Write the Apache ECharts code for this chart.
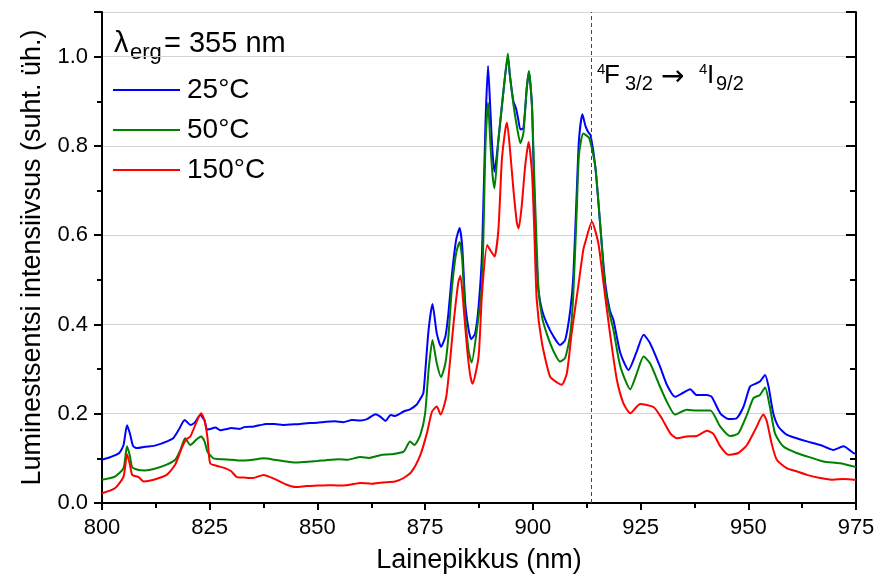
<!DOCTYPE html>
<html>
<head>
<meta charset="utf-8">
<script src="https://cdn.jsdelivr.net/npm/echarts@6/dist/echarts.min.js"></script>
<style>html,body{margin:0;padding:0;background:#fff;}#c{width:881px;height:582px;}</style>
</head>
<body>
<div id="c"></div>
<script>
// ---- data ----
const seriesNames = ['25°C', '50°C', '150°C'];
const xTicks = [800, 825, 850, 875, 900, 925, 950, 975];
const yTicks = [0.0, 0.2, 0.4, 0.6, 0.8, 1.0];
const transitionWl = 913.5;

const wl25 = [800,802,804,805,805.8,806.5,807.2,808.1,810,812,814,815.1,816.5,817.8,819.2,820.5,821.5,822.8,823.8,824.4,825.2,826.3,827.5,829,830,832,833,835,837,838,840,842,844,846,848,850,852,854,856,858,860,861.5,863.5,864.5,865.8,867,868,870,871.5,873,874,874.6,875,875.8,876.7,877.7,878.7,879.7,880.4,881.2,882.2,883,883.6,884.3,885.1,885.7,886.6,887.4,888.2,889,889.6,890.1,890.6,891.1,892,893.2,894.2,894.7,895.5,896.1,896.6,897.1,897.8,898.6,899.1,899.8,900.3,900.8,901.3,902.1,903.2,904.8,906.3,907.5,908.7,909.4,910.2,910.7,911.5,912.2,912.9,913.4,914.5,915.6,916.8,917.9,918.7,920.3,922.2,924.1,925.7,927.2,929.5,931.1,933,934.9,936.5,938,940.4,941.5,943.5,945.4,947.3,948.9,950.4,951.6,952.7,953.9,954.7,955.8,957,958.9,961.2,963.6,966.7,969.7,972.1,974.4,975];
const int25 = [0.097,0.103,0.112,0.130,0.174,0.155,0.128,0.123,0.126,0.128,0.134,0.138,0.145,0.164,0.186,0.175,0.180,0.197,0.185,0.164,0.166,0.169,0.163,0.166,0.168,0.166,0.170,0.171,0.175,0.177,0.177,0.175,0.176,0.177,0.179,0.180,0.182,0.183,0.181,0.186,0.185,0.188,0.199,0.194,0.184,0.197,0.195,0.205,0.210,0.220,0.235,0.247,0.291,0.388,0.446,0.380,0.350,0.373,0.425,0.51,0.59,0.616,0.575,0.448,0.388,0.367,0.380,0.44,0.56,0.85,0.979,0.888,0.791,0.742,0.813,0.925,1.0,0.955,0.899,0.884,0.86,0.837,0.84,0.93,0.965,0.888,0.70,0.56,0.477,0.433,0.403,0.373,0.354,0.365,0.433,0.51,0.70,0.813,0.871,0.845,0.83,0.824,0.753,0.627,0.492,0.43,0.41,0.336,0.298,0.339,0.377,0.358,0.306,0.265,0.238,0.247,0.255,0.242,0.242,0.238,0.201,0.188,0.190,0.216,0.261,0.267,0.272,0.287,0.261,0.201,0.171,0.153,0.145,0.138,0.130,0.119,0.127,0.112,0.110];

const wl50 = [800,803,805,805.8,806.5,807,808.5,810,812,815,817,818.2,819.3,820.5,821.9,823,823.8,824.5,825.9,828,830,832,835,837.5,840,842,845,847,850,852,855,857,860,862,865,867,870,871.5,872.5,873.9,875,875.8,876.7,877.7,878.7,879.7,880.4,881.2,882.2,883,883.6,884.3,885.1,885.8,887,888.2,889,889.6,890.1,890.6,891.1,892,893.2,894.2,894.7,895.5,896.3,897.1,897.8,898.6,899.1,899.8,900.3,900.8,901.3,902.1,903.2,904.8,906.3,907.5,908.7,909.4,910.2,910.7,911.7,913.1,914.5,915.6,916.8,917.9,918.7,920.3,922.6,924.1,925.7,927.2,929.5,931.1,933,935.7,938,941.2,943.5,945.8,947.7,949.7,951.2,952.7,953.9,955,956.2,958.1,961.2,965.1,967.4,971.3,974.4,975];
const int50 = [0.052,0.059,0.078,0.127,0.105,0.080,0.074,0.073,0.076,0.086,0.097,0.119,0.145,0.130,0.142,0.149,0.138,0.115,0.100,0.098,0.097,0.095,0.097,0.100,0.097,0.094,0.091,0.092,0.094,0.096,0.098,0.097,0.103,0.101,0.108,0.109,0.115,0.138,0.130,0.153,0.201,0.298,0.365,0.313,0.282,0.313,0.373,0.48,0.56,0.585,0.545,0.42,0.34,0.315,0.388,0.49,0.80,0.897,0.813,0.739,0.705,0.813,0.925,1.007,0.955,0.892,0.843,0.806,0.828,0.933,0.968,0.888,0.739,0.60,0.48,0.418,0.380,0.340,0.317,0.325,0.38,0.47,0.66,0.78,0.828,0.817,0.753,0.627,0.48,0.42,0.388,0.306,0.255,0.29,0.328,0.313,0.261,0.227,0.198,0.209,0.207,0.207,0.171,0.150,0.156,0.198,0.235,0.242,0.259,0.216,0.156,0.127,0.112,0.100,0.093,0.089,0.082,0.080];

const wl150 = [800,803,805,805.8,806.5,807,808.5,809.7,812,815,817,818.5,819.5,820.5,822,823,823.8,824.5,825.1,826.7,828.5,830,831.3,833,835,837.5,840,842.9,845,847.5,850,852.5,855,857.5,860,862.5,865,868,870,871.9,873.9,875.4,876.6,877.7,878.6,879.9,880.8,881.6,882.7,883.2,884,884.7,885.4,886,887.4,888.2,889.4,890.2,891.1,892,892.8,893.6,894,894.7,895.5,896.3,896.7,897.4,898.2,899,899.8,900.3,900.9,902.1,904,905.6,906.7,907.9,909,910.6,911.7,912.1,913.7,915.2,916.4,917.9,919.5,921,922.6,924.9,928,929.9,931.9,933.4,935.7,938,940.4,941.9,943.5,945.4,947.7,949.7,951.6,953.5,954.3,955.4,956.6,958.9,961.2,963.6,966.7,969.7,972.1,974.4,975];
const int150 = [0.022,0.033,0.059,0.110,0.085,0.063,0.058,0.048,0.052,0.063,0.086,0.123,0.142,0.149,0.183,0.201,0.185,0.145,0.089,0.083,0.078,0.071,0.058,0.057,0.056,0.063,0.054,0.041,0.036,0.038,0.039,0.040,0.039,0.041,0.045,0.043,0.046,0.048,0.056,0.071,0.108,0.156,0.205,0.216,0.198,0.238,0.32,0.403,0.495,0.509,0.43,0.350,0.29,0.267,0.328,0.47,0.578,0.565,0.552,0.612,0.768,0.836,0.852,0.791,0.701,0.627,0.615,0.664,0.753,0.809,0.739,0.619,0.455,0.359,0.283,0.270,0.265,0.291,0.380,0.49,0.567,0.582,0.630,0.582,0.492,0.38,0.276,0.224,0.201,0.222,0.215,0.190,0.156,0.145,0.149,0.150,0.162,0.155,0.127,0.108,0.112,0.130,0.164,0.198,0.183,0.134,0.097,0.078,0.071,0.063,0.056,0.052,0.054,0.052,0.052];

// ---- chart ----
const FONT = 'Arial, "Liberation Sans", sans-serif';
const colors = ['#0000ff', '#008000', '#ff0000'];
const zip = (xs, ys) => xs.map((x, i) => [x, ys[i]]);
const allX = [wl25, wl50, wl150];
const allY = [int25, int50, int150];

const chart = echarts.init(document.getElementById('c'), null, {renderer: 'canvas'});

const series = seriesNames.map((name, i) => ({
  name: name,
  type: 'line',
  data: zip(allX[i], allY[i]),
  symbol: 'none',
  smooth: 0.2,
  lineStyle: {color: colors[i], width: 2},
  itemStyle: {color: colors[i]},
  z: 3 + i,
  silent: true,
  markLine: i === 0 ? {
    silent: true,
    symbol: 'none',
    label: {show: false},
    lineStyle: {type: [4, 3], color: '#444', width: 1},
    data: [{xAxis: transitionWl}]
  } : undefined
}));

const option = {
  backgroundColor: '#fff',
  animation: false,
  grid: {left: 102, right: 25, top: 12, bottom: 79, containLabel: false},
  legend: {
    data: seriesNames,
    orient: 'vertical',
    left: 108,
    top: 69,
    itemWidth: 67,
    itemHeight: 14,
    itemGap: 8,
    icon: 'path://M0,6 L67,6 L67,8 L0,8 Z',
    textStyle: {fontFamily: FONT, fontSize: 28, color: '#000', lineHeight: 32, padding: [0, 0, 0, 2]},
    selectedMode: false
  },
  xAxis: [{
    type: 'value', min: 800, max: 975, interval: 25,
    name: 'Lainepikkus (nm)', nameLocation: 'middle', nameGap: 44,
    nameTextStyle: {fontFamily: FONT, fontSize: 27, color: '#000'},
    axisLine: {show: true, lineStyle: {color: '#000', width: 2}},
    axisTick: {show: true, length: 7, lineStyle: {color: '#000', width: 2}},
    minorTick: {show: true, splitNumber: 2, length: 5, lineStyle: {color: '#000', width: 2}},
    axisLabel: {fontFamily: FONT, fontSize: 22, color: '#000', margin: 14,
      formatter: v => xTicks.includes(v) ? String(v) : ''},
    splitLine: {show: false}
  }, {
    type: 'value', min: 800, max: 975, interval: 25, position: 'top',
    axisLine: {show: true, lineStyle: {color: '#000', width: 2}},
    axisTick: {show: false}, axisLabel: {show: false}, splitLine: {show: false}
  }],
  yAxis: [{
    type: 'value', min: 0, max: 1.1, interval: 0.2,
    name: 'Luminestsentsi intensiivsus (suht. üh.)', nameLocation: 'middle', nameGap: 53,
    nameTextStyle: {fontFamily: FONT, fontSize: 27, color: '#000'},
    axisLine: {show: true, lineStyle: {color: '#000', width: 2}},
    axisTick: {show: true, length: 8, lineStyle: {color: '#000', width: 2}},
    minorTick: {show: true, splitNumber: 2, length: 5, lineStyle: {color: '#000', width: 2}},
    axisLabel: {fontFamily: FONT, fontSize: 22, color: '#000', margin: 14, showMaxLabel: false,
      formatter: v => {
        const t = yTicks.find(y => Math.abs(y - v) < 1e-6);
        return t === undefined ? '' : t.toFixed(1);
      }},
    splitLine: {show: true, lineStyle: {color: '#d4d4d4', width: 1}}
  }, {
    type: 'value', min: 0, max: 1.1, interval: 0.2, position: 'right',
    axisLine: {show: true, lineStyle: {color: '#000', width: 2}},
    axisTick: {show: true, inside: true, length: 10, lineStyle: {color: '#000', width: 2}},
    minorTick: {show: true, splitNumber: 2, length: 6, lineStyle: {color: '#000', width: 2}},
    axisLabel: {show: false}, splitLine: {show: false}
  }],
  graphic: [
    {type: 'text', left: 114, top: 29, style: {text: 'λ', font: '29px ' + FONT, fill: '#000'}},
    {type: 'text', left: 130, top: 42, style: {text: 'erg', font: '22px ' + FONT, fill: '#000'}},
    {type: 'text', left: 164, top: 29, style: {text: '= 355 nm', font: '29px ' + FONT, fill: '#000'}},
    {type: 'text', left: 597, top: 62, style: {text: '4', font: '15px ' + FONT, fill: '#000'}},
    {type: 'text', left: 604, top: 63, style: {text: 'F', font: '26px ' + FONT, fill: '#000'}},
    {type: 'text', left: 625, top: 74, style: {text: '3/2', font: '20px ' + FONT, fill: '#000'}},
    {type: 'text', left: 661, top: 64, style: {text: '→', font: '28px "DejaVu Sans", sans-serif', fill: '#000'}},
    {type: 'text', left: 699, top: 62, style: {text: '4', font: '15px ' + FONT, fill: '#000'}},
    {type: 'text', left: 707, top: 63, style: {text: 'I', font: '26px ' + FONT, fill: '#000'}},
    {type: 'text', left: 716, top: 74, style: {text: '9/2', font: '20px ' + FONT, fill: '#000'}}
  ],
  series: series
};
chart.setOption(option);
</script>
</body>
</html>
